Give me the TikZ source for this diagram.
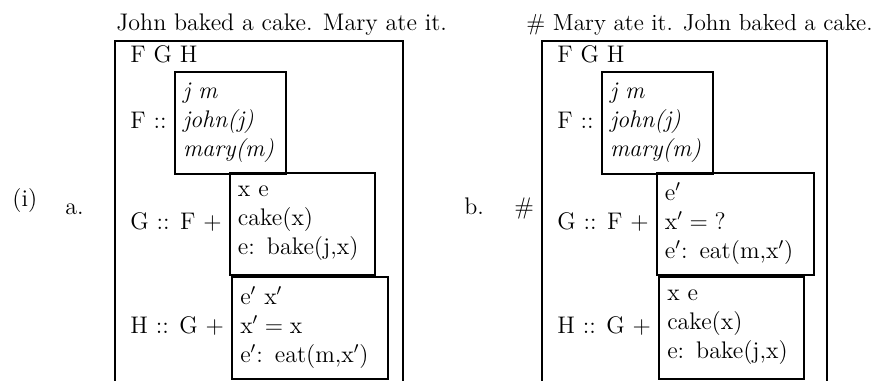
\documentclass[tikz,border=0pt]{standalone}
\usepackage{amsmath,amssymb}
\usepackage{tikz}
\usetikzlibrary{positioning}

\begin{document}
\begin{tikzpicture}[
  x=0.5pt, y=-0.5pt,
  node distance=3.5pt,
  every node/.style={font=\fontsize{12}{14.5}\selectfont, inner sep=0pt},
  txt/.style={anchor=base west},
  lbl/.style={anchor=base west, text height=8.5pt, text depth=3pt},
  drsbox/.style={draw, line width=1pt, align=left, inner xsep=4pt, minimum height=51pt},
  frame/.style={line width=1pt}
]
  \useasboundingbox (0,0) rectangle (877,380);

  % (i) a.
  \node[txt] (num) at (12,206) {(i)};
  \node[txt] (ia) at (65,214) {a.};
  \node[txt] (titleA) at (116,31) {John baked a cake. Mary ate it.};
  \draw[frame] (115,390) |- (403,41) -- (403,390);
  \node[txt] (fghA) at (130,62) {F G H};

  \node[lbl] (FlabA) at (130,128) {F ::};
  \node[drsbox, text width=47.5pt, right=of FlabA] (FboxA)
    {\textit{j m}\\ \textit{john(j)}\\ \textit{mary(m)}};
  \node[lbl] (GlabA) at (130,229) {G :: F $+$};
  \node[drsbox, text width=64.5pt, right=of GlabA] (GboxA)
    {x e\\ cake(x)\\ e: bake(j,x)};
  \node[lbl] (HlabA) at (130,333) {H :: G $+$};
  \node[drsbox, text width=70pt, right=of HlabA] (HboxA)
    {e$'$ x$'$\\ $\mathrm{x}'=\mathrm{x}$\\ e$'$: eat(m,x$'$)};

  % b.
  \node[txt] (ib) at (464,214) {b.};
  \node[txt] (hash) at (514,214) {\#};
  \node[anchor=base east, font=\fontsize{11.6}{14}\selectfont] (titleB) at (873,31)
    {\# Mary ate it. John baked a cake.};
  \draw[frame] (542,390) |- (827,41) -- (827,390);
  \node[txt] (fghB) at (557,62) {F G H};

  \node[lbl] (FlabB) at (557,128) {F ::};
  \node[drsbox, text width=47.5pt, right=of FlabB] (FboxB)
    {\textit{j m}\\ \textit{john(j)}\\ \textit{mary(m)}};
  \node[lbl] (GlabB) at (557,229) {G :: F $+$};
  \node[drsbox, text width=70.5pt, right=of GlabB] (GboxB)
    {e$'$\\ $\mathrm{x}'=\mathrm{?}$\\ e$'$: eat(m,x$'$)};
  \node[lbl] (HlabB) at (557,333) {H :: G $+$};
  \node[drsbox, text width=64.5pt, right=of HlabB] (HboxB)
    {x e\\ cake(x)\\ e: bake(j,x)};
\end{tikzpicture}
\end{document}
